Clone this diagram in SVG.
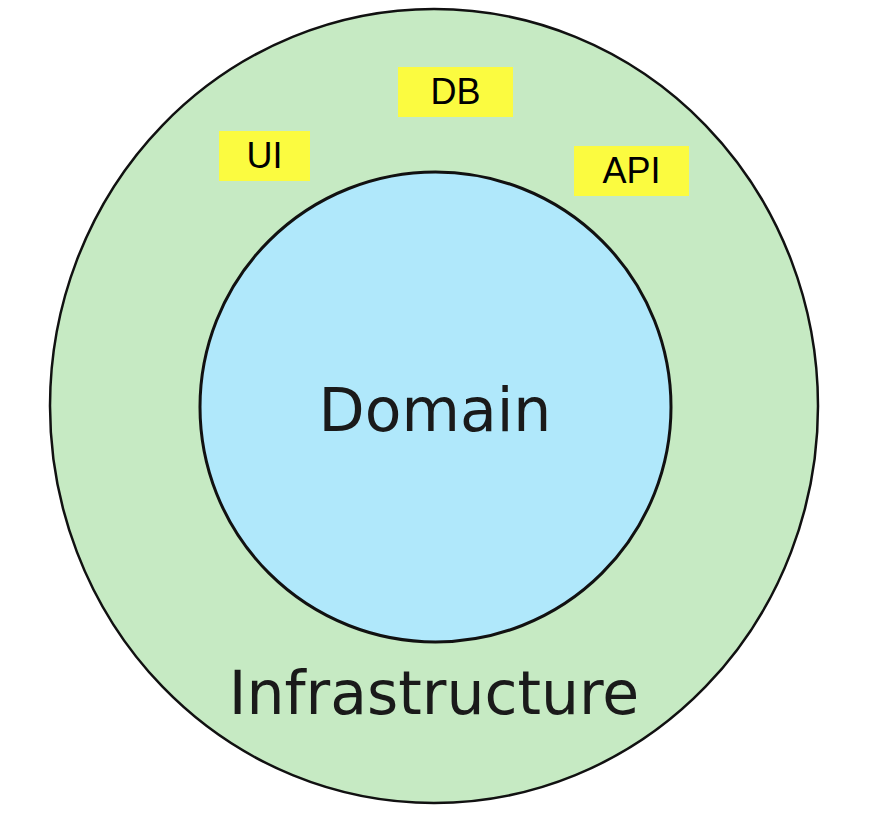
<svg xmlns="http://www.w3.org/2000/svg" width="894" height="822" viewBox="0 0 894 822">
<style>
.lbl{font-family:"Liberation Sans",Arial,sans-serif;font-size:36px;fill:#000;text-anchor:middle}
.big{font-family:"DejaVu Sans",Verdana,sans-serif;font-size:60px;fill:#1a1a1a;text-anchor:middle}
.box{fill:#fbfb40}
</style>
<rect width="894" height="822" fill="#fff"/>
<g id="infrastructure">
<ellipse cx="434" cy="406" rx="384" ry="397" fill="#c6eac3" stroke="#111" stroke-width="2.5"/>
<text class="big" x="434" y="714">Infrastructure</text>
</g>
<g id="domain">
<ellipse cx="435.5" cy="407" rx="235.5" ry="235" fill="#b0e8fb" stroke="#111" stroke-width="3"/>
<text class="big" x="435" y="431">Domain</text>
</g>
<g id="db">
<rect class="box" x="398" y="67" width="115" height="50"/>
<text class="lbl" x="455.5" y="104">DB</text>
</g>
<g id="ui">
<rect class="box" x="219" y="131" width="91" height="50"/>
<text class="lbl" x="264.5" y="168">UI</text>
</g>
<g id="api">
<rect class="box" x="574" y="146" width="115" height="50"/>
<text class="lbl" x="631.5" y="183">API</text>
</g>
<g id="connectors"/>
</svg>
